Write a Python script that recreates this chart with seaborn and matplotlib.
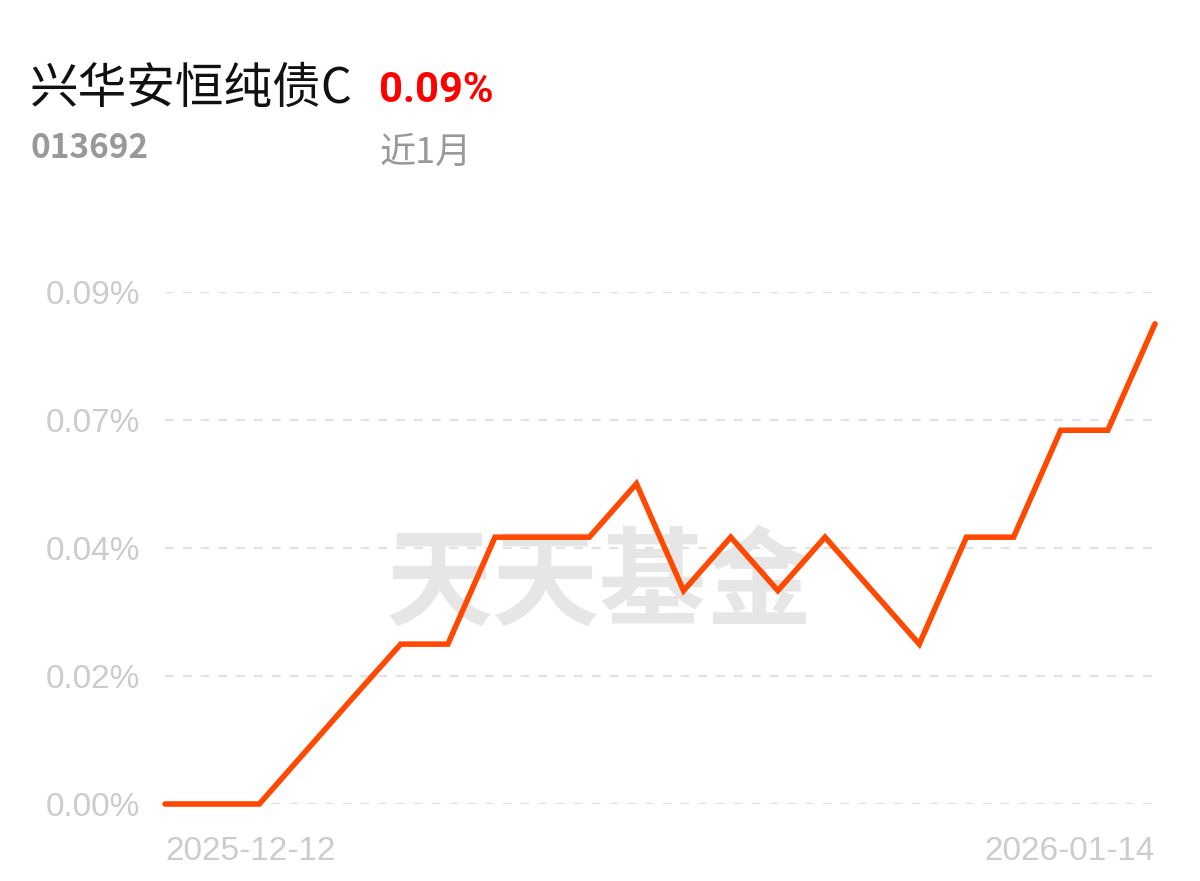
import matplotlib
matplotlib.use("Agg")
import matplotlib.pyplot as plt
import seaborn as sns
import pandas as pd

# fund info
fund_name = "兴华安恒纯债C"
fund_code = "013692"
period_return = "0.09%"
period_label = "近1月"

# trading days shown on the chart
dates = ["2025-12-12", "2025-12-15", "2025-12-16", "2025-12-17", "2025-12-18",
         "2025-12-19", "2025-12-22", "2025-12-23", "2025-12-24", "2025-12-25",
         "2025-12-26", "2025-12-29", "2025-12-30", "2025-12-31", "2026-01-05",
         "2026-01-06", "2026-01-07", "2026-01-08", "2026-01-09", "2026-01-12",
         "2026-01-13", "2026-01-14"]
# cumulative return in percent
returns = [0.0, 0.0, 0.0, 0.0094, 0.0188, 0.0281, 0.0281, 0.0469, 0.0469, 0.0469,
           0.0563, 0.0375, 0.0469, 0.0375, 0.0469, 0.0375, 0.0281, 0.0469, 0.0469,
           0.0657, 0.0657, 0.0844]

y_ticks = [0.0, 0.0225, 0.045, 0.0675, 0.09]
y_labels = ["0.00%", "0.02%", "0.04%", "0.07%", "0.09%"]

df = pd.DataFrame({"date": dates, "ret": returns})
df["idx"] = range(len(df))

sns.set_style("white")
plt.rcParams["font.family"] = ["Noto Sans CJK SC", "DejaVu Sans"]

fig = plt.figure(figsize=(12, 8.81), dpi=100)
ax = fig.add_axes([0.1375, 0.0874, 0.825, 0.5812])

# watermark, behind the line
ax.text(0.5, 0.335, "天天基金", transform=fig.transFigure, fontsize=77,
        fontweight="heavy", color="#e6e6e6", ha="center", va="center", zorder=2)

for t in y_ticks:
    ax.axhline(t, color="#e2e2e2", lw=1.6, ls=(0, (4, 4)), zorder=1)

sns.lineplot(data=df, x="idx", y="ret", ax=ax, color="#ff4800", lw=4,
             solid_capstyle="round", solid_joinstyle="miter", zorder=3, clip_on=False)

ax.set_xlim(0, len(dates) - 1)
ax.set_ylim(0, 0.09)
ax.patch.set_alpha(0)
for s in ax.spines.values():
    s.set_visible(False)

ax.set_yticks(y_ticks)
ax.set_yticklabels(y_labels, fontfamily="Liberation Sans", fontsize=24, color="#cccccc")
ax.set_xticks([0, len(dates) - 1])
ax.set_xticklabels([dates[0], dates[-1]], fontfamily="Liberation Sans", fontsize=24,
                   color="#cccccc")
xl = ax.get_xticklabels()
xl[0].set_ha("left")
xl[1].set_ha("right")
ax.tick_params(axis="x", length=0, pad=23)
ax.tick_params(axis="y", length=0, pad=18)
ax.set_xlabel("")
ax.set_ylabel("")

# header text
fig.text(0.025, 0.899, fund_name, fontsize=35, color="#111111", ha="left", va="center")
fig.text(0.316, 0.897, period_return, fontsize=30, fontweight="bold", color="#ff0000",
         fontfamily="Roboto", ha="left", va="center")
fig.text(0.025, 0.832, fund_code, fontsize=24, fontweight="bold", color="#999999",
         ha="left", va="center")
fig.text(0.316, 0.826, period_label, fontsize=26, color="#999999", ha="left", va="center")

fig.savefig("out.png", dpi=100, facecolor="white")
